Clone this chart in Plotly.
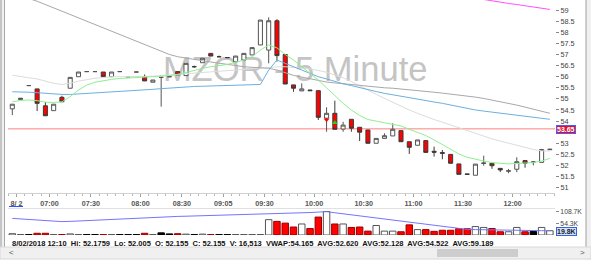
import plotly.graph_objects as go

# ---------------- data ----------------
tick_bar_index = [0.5, 4.5, 9.5, 15.5, 20.5, 25.5, 30.5, 36.5, 42.5, 48.5, 54.5, 60.5]
tick_labels = ["8/ 2", "07:00", "07:30", "08:00", "08:30", "09:05", "09:30",
               "10:00", "10:30", "11:00", "11:30", "12:00"]

opens = [54.55, 54.97, 55.60, 55.45, 54.69, 54.47, 55.07, 55.48, 56.00, 56.23,
         56.23, 56.21, 56.00, 56.23, 56.00, 56.21, 56.00, 55.75, 55.97, 56.00,
         56.23, 56.05, 56.45, 56.63, 57.05, 56.90, 56.86, 56.67, 56.75, 56.98,
         57.43, 57.20, 58.52, 57.00, 55.63, 55.36, 55.40, 55.37, 54.13, 54.35,
         53.64, 54.08, 53.72, 53.60, 53.00, 53.22, 53.33, 53.57, 53.07, 52.91,
         53.12, 52.64, 52.58, 52.50, 52.07, 51.62, 51.56, 52.09, 52.10, 51.87,
         51.74, 51.83, 52.22, 52.155, 52.14, 52.71]
highs = [54.76, 55.03, 55.60, 55.45, 54.86, 54.76, 55.14, 55.97, 56.21, 56.23,
         56.23, 56.21, 56.21, 56.23, 56.00, 56.21, 56.10, 55.85, 55.97, 56.00,
         56.23, 56.60, 56.50, 56.83, 57.05, 56.95, 56.86, 56.93, 57.05, 57.31,
         58.55, 58.67, 58.59, 57.00, 55.63, 55.70, 55.40, 55.37, 54.62, 54.92,
         53.97, 54.08, 53.72, 53.60, 53.22, 53.45, 53.90, 53.57, 53.07, 53.15,
         53.12, 52.85, 52.70, 52.50, 52.07, 51.62, 52.06, 52.44, 52.10, 51.87,
         51.84, 52.37, 52.22, 52.176, 52.72, 52.74]
lows = [54.27, 54.97, 55.60, 54.45, 54.24, 54.47, 54.87, 55.48, 56.00, 56.23,
        56.23, 56.00, 56.00, 56.23, 56.00, 56.21, 55.81, 55.75, 54.65, 56.00,
        56.08, 56.05, 56.40, 56.63, 56.93, 56.90, 56.86, 56.67, 56.75, 56.98,
        57.43, 56.60, 56.68, 55.67, 55.32, 55.36, 55.37, 54.05, 53.52, 53.63,
        53.52, 53.52, 53.10, 53.00, 53.00, 53.22, 53.33, 53.07, 52.52, 52.91,
        52.59, 52.40, 52.28, 52.10, 51.60, 51.58, 51.56, 51.99, 51.85, 51.70,
        51.65, 51.70, 51.90, 52.005, 52.14, 52.70]
closes = [54.76, 55.03, 55.60, 54.80, 54.24, 54.76, 54.87, 55.97, 56.21, 56.23,
          56.23, 56.00, 56.21, 56.23, 56.00, 56.21, 55.81, 55.85, 55.97, 56.00,
          56.08, 56.60, 56.45, 56.83, 56.93, 56.90, 56.86, 56.93, 57.05, 57.31,
          58.55, 58.52, 56.95, 55.67, 55.48, 55.45, 55.37, 54.17, 54.35, 53.63,
          53.82, 53.68, 53.50, 53.00, 53.22, 53.34, 53.63, 53.07, 52.82, 53.15,
          52.59, 52.60, 52.55, 52.10, 51.60, 51.60, 52.06, 52.11, 51.99, 51.80,
          51.76, 52.17, 52.10, 52.155, 52.72, 52.73]

vol_k = [6, 2, 2, 8, 8, 2, 2, 5, 2, 2,
         2, 2, 2, 2, 2, 2, 8, 2, 10, 5,
         6, 4, 2, 4, 2, 2, 2, 2, 2, 2,
         2, 71, 63, 55, 37, 51, 30, 83, 108.7, 51,
         51, 35, 37, 18, 44, 18, 18, 15, 47, 25,
         25, 17, 22, 22, 30, 29, 39, 35, 30, 15,
         15, 35, 15, 16.5, 35, 19.8]
vol_ma_k = [77, 74, 71, 68, 65, 63, 62, 63, 65, 67,
            69, 71, 73, 75, 77, 79, 81, 83, 84, 85,
            86, 87, 88, 89, 90, 91, 92, 93, 94, 94,
            95, 96, 98, 99, 100, 102, 104, 106, 108, 103,
            98, 93, 88, 83, 78, 73, 68, 63, 58, 53,
            48, 43, 38, 33, 29, 26, 25, 24, 23, 23,
            22, 22, 21, 21, 20, 20]

ma_green = [54.87, 54.93, 54.95, 54.92, 54.85, 54.84, 54.87, 55.10, 55.40, 55.62,
            55.75, 55.82, 55.88, 55.92, 55.95, 55.97, 55.98, 56.00, 56.02, 56.05,
            56.10, 56.20, 56.28, 56.37, 56.45, 56.50, 56.55, 56.65, 56.75, 56.90,
            57.20, 57.43, 57.30, 57.00, 56.75, 56.45, 56.15, 55.85, 55.50, 55.15,
            54.80, 54.50, 54.25, 54.07, 54.00, 53.93, 53.87, 53.78, 53.63, 53.50,
            53.35, 53.15, 52.95, 52.72, 52.52, 52.37, 52.27, 52.20, 52.13, 52.09,
            52.07, 52.09, 52.11, 52.13, 52.20, 52.32]
ma_blue = [55.32, 55.32, 55.30, 55.28, 55.25, 55.22, 55.20, 55.20, 55.22, 55.25,
           55.28, 55.30, 55.32, 55.34, 55.36, 55.38, 55.40, 55.43, 55.46, 55.49,
           55.52, 55.54, 55.56, 55.57, 55.58, 55.59, 55.60, 55.61, 55.62, 55.63,
           55.65, 56.30, 56.75, 56.60, 56.45, 56.30, 56.15, 56.00, 55.90, 55.78,
           55.68, 55.60, 55.50, 55.42, 55.33, 55.25, 55.18, 55.12, 55.06, 55.00,
           54.93, 54.86, 54.80, 54.72, 54.63, 54.55, 54.50, 54.45, 54.40, 54.35,
           54.30, 54.25, 54.20, 54.15, 54.11, 54.08]
ma_gray = [59.80, 59.65, 59.52, 59.40, 59.25, 59.10, 58.95, 58.80, 58.65, 58.50,
           58.35, 58.20, 58.05, 57.90, 57.75, 57.60, 57.45, 57.30, 57.15, 57.00,
           56.90, 56.83, 56.78, 56.72, 56.66, 56.60, 56.55, 56.50, 56.45, 56.42,
           56.40, 56.38, 56.30, 56.18, 56.06, 55.98, 55.90, 55.82, 55.76, 55.72,
           55.68, 55.64, 55.60, 55.56, 55.52, 55.50, 55.48, 55.45, 55.42, 55.38,
           55.34, 55.30, 55.26, 55.22, 55.18, 55.14, 55.08, 55.02, 54.95, 54.88,
           54.80, 54.72, 54.63, 54.53, 54.44, 54.35]
ma_lightgray = [56.07, 56.00, 55.95, 55.90, 55.80, 55.70, 55.65, 55.70, 55.80, 55.88,
                55.93, 55.96, 56.00, 56.00, 56.00, 56.00, 56.00, 56.02, 56.05, 56.08,
                56.10, 56.13, 56.16, 56.19, 56.22, 56.25, 56.28, 56.31, 56.34, 56.37,
                56.40, 56.42, 56.44, 56.45, 56.42, 56.40, 56.35, 56.28, 56.20, 56.08,
                55.95, 55.78, 55.60, 55.40, 55.20, 55.02, 54.85, 54.68, 54.50, 54.35,
                54.20, 54.07, 53.95, 53.82, 53.70, 53.57, 53.45, 53.32, 53.20, 53.10,
                53.00, 52.90, 52.80, 52.72, 52.66, 52.65]
ma_magenta = [None] * 57 + [59.48, 59.41, 59.36, 59.30, 59.25, 59.20, 59.14, 59.08, 59.03]

alert_price = 53.65
sell_marker = (38, 54.06)
buy_marker = (39, 53.93)

# 53.5 is hidden behind the alert-price box in the reference
price_ticks = [51, 51.5, 52, 52.5, 53, 54, 54.5, 55, 55.5, 56, 56.5, 57, 57.5, 58, 58.5, 59]
price_tick_text = [("%g" % v) for v in price_ticks]
vol_ticks = [54.3, 108.7]
vol_tick_text = ["54.3K", "108.7K"]

info_text = ("8/02/2018 12:10  Hi: 52.1759  Lo: 52.005  O: 52.155  C: 52.155  "
             "V: 16,513  VWAP:54.165  AVG:52.620  AVG:52.128  AVG:54.522  AVG:59.189")
watermark = "MZOR - 5 Minute"

# ---------------- figure ----------------
idx = list(range(len(opens)))
W, H = 591, 260
ML, MR, MT, MB = 8, 36, 0, 25
PW, PH = W - ML - MR, H - MT - MB


def px(x):
    return (x - ML) / PW


def py(y):
    return (PH - (y - MT)) / PH


fig = go.Figure()

fig.add_trace(go.Scatter(x=[34.2], y=[56.2], mode="text", text=[watermark],
                         textfont=dict(family="Liberation Sans", size=34.5, color="#c4c4c4"),
                         xaxis="x", yaxis="y", hoverinfo="skip"))

line_specs = [
    (ma_lightgray, "#dcdcdc"),
    (ma_gray, "#a8a8a8"),
    (ma_blue, "#6cb0e0"),
    (ma_green, "#8ef08e"),
    (ma_magenta, "#ff50ff"),
]
for series, col in line_specs:
    fig.add_trace(go.Scatter(x=idx, y=series, mode="lines", line=dict(color=col, width=1),
                             xaxis="x", yaxis="y3", hoverinfo="skip", connectgaps=False))

fig.add_trace(go.Candlestick(
    x=idx, open=opens, high=highs, low=lows, close=closes,
    increasing=dict(fillcolor="#ffffff", line=dict(color="#555555", width=1)),
    decreasing=dict(fillcolor="#ff0000", line=dict(color="#3a3a3a", width=1)),
    whiskerwidth=0, xaxis="x", yaxis="y3", hoverinfo="skip"))

fig.add_trace(go.Scatter(x=[sell_marker[0]], y=[sell_marker[1]], mode="markers",
                         marker=dict(symbol="triangle-down", size=5, color="#ff0000"),
                         xaxis="x", yaxis="y3"))
fig.add_trace(go.Scatter(x=[buy_marker[0]], y=[buy_marker[1]], mode="markers",
                         marker=dict(symbol="triangle-up", size=5, color="#22cc22"),
                         xaxis="x", yaxis="y3"))

vcol, vline = [], []
for o, c in zip(opens, closes):
    if c > o:
        vcol.append("#ffffff"); vline.append("#555555")
    elif c < o:
        vcol.append("#ff0000"); vline.append("#9a0000")
    else:
        vcol.append("#000000"); vline.append("#000000")

fig.add_trace(go.Bar(x=idx, y=vol_k, marker=dict(color=vcol, line=dict(color=vline, width=1)),
                     width=0.78, xaxis="x2", yaxis="y2", hoverinfo="skip"))
fig.add_trace(go.Scatter(x=idx, y=vol_ma_k, mode="lines", line=dict(color="#7474ff", width=1),
                         xaxis="x2", yaxis="y2", hoverinfo="skip"))

xr = [-0.52, 65.62]
yr = [50.76, 59.455]
price_dom = [py(193), 1]
vol_dom = [0, py(208)]

fig.update_layout(
    width=W, height=H, margin=dict(l=ML, r=MR, t=MT, b=MB),
    paper_bgcolor="white", plot_bgcolor="white", showlegend=False,
    xaxis=dict(domain=[0, 1], anchor="y", range=xr, tickvals=tick_bar_index, ticktext=tick_labels,
               ticks="outside", ticklen=3, tickcolor="#a0a0a0", showline=True, linecolor="#d0d0d0",
               showgrid=False, zeroline=False, rangeslider=dict(visible=False),
               tickfont=dict(family="Liberation Sans", size=7.2, color="#555555", weight="bold"),
               minor=dict(ticks="outside", tick0=-0.5, dtick=1, ticklen=2, tickcolor="#b8b8b8")),
    yaxis=dict(domain=price_dom, anchor="x", range=yr, side="right", tickvals=price_ticks,
               ticktext=price_tick_text, ticks="outside", ticklen=3, tickcolor="#888888",
               showgrid=False, zeroline=False, showline=False,
               tickfont=dict(family="Liberation Sans", size=7.3, color="#444444")),
    yaxis3=dict(overlaying="y", range=yr, visible=False, side="right"),
    xaxis2=dict(domain=[0, 1], anchor="y2", range=xr, matches="x", showticklabels=False,
                ticks="", showgrid=False, zeroline=False, showline=False),
    yaxis2=dict(domain=vol_dom, anchor="x2", range=[0, 125], side="right", tickvals=vol_ticks,
                ticktext=vol_tick_text, ticks="outside", ticklen=3, tickcolor="#888888",
                showgrid=False, zeroline=False, showline=False,
                tickfont=dict(family="Liberation Sans", size=6.8, color="#444444")),
)

shapes = [
    dict(type="line", xref="paper", yref="y", x0=0, x1=1, y0=alert_price, y1=alert_price,
         line=dict(color="#ff8080", width=1), layer="below"),
    dict(type="line", xref="paper", yref="paper", x0=0, x1=1, y0=py(208.5), y1=py(208.5),
         line=dict(color="#e0e0e0", width=1)),
    dict(type="line", xref="paper", yref="paper", x0=px(9), x1=px(23), y0=py(206.5), y1=py(206.5),
         line=dict(color="#3050ff", width=1)),
    dict(type="rect", xref="paper", yref="paper", x0=px(0), x1=px(4.5), y0=py(247), y1=py(0),
         fillcolor="#f0f0f0", line=dict(width=0)),
    dict(type="line", xref="paper", yref="paper", x0=px(1), x1=px(1), y0=py(247), y1=py(0),
         line=dict(color="#9a9a9a", width=1)),
    dict(type="line", xref="paper", yref="paper", x0=px(4.5), x1=px(4.5), y0=py(247), y1=py(0),
         line=dict(color="#a8a8a8", width=1)),
    dict(type="rect", xref="paper", yref="paper", x0=px(586), x1=px(591), y0=py(260), y1=py(0),
         fillcolor="#f0f0f0", line=dict(width=0)),
    dict(type="line", xref="paper", yref="paper", x0=px(586), x1=px(586), y0=py(247), y1=py(0),
         line=dict(color="#a0a0a0", width=1)),
    dict(type="rect", xref="paper", yref="paper", x0=px(0), x1=px(591), y0=py(259), y1=py(247),
         fillcolor="#f0f0f0", line=dict(color="#d8d8d8", width=1)),
    dict(type="rect", xref="paper", yref="paper", x0=px(437), x1=px(518), y0=py(257), y1=py(249),
         fillcolor="#cdcdcd", line=dict(width=0)),
]
fig.update_layout(shapes=shapes)

annotations = [
    dict(xref="paper", yref="y", x=px(556), y=alert_price - 0.03, xanchor="left", yanchor="middle",
         text="<b>53.65</b>", showarrow=False, bgcolor="#dd1030", bordercolor="#4a5cff",
         borderwidth=1, borderpad=0, font=dict(family="Liberation Sans", size=7, color="white")),
    dict(xref="paper", yref="y2", x=px(556), y=vol_k[-1] - 1.5, xanchor="left", yanchor="middle",
         text="<b>19.8K</b>", showarrow=False, bgcolor="#cfe2ff", bordercolor="#3a62d8",
         borderwidth=1, borderpad=0, font=dict(family="Liberation Sans", size=7, color="#222222")),
    dict(xref="paper", yref="paper", x=px(10), y=py(243), xanchor="left", yanchor="middle",
         text=info_text, showarrow=False,
         font=dict(family="Liberation Sans", size=7.5, color="#111111", weight="bold")),
    dict(xref="paper", yref="paper", x=px(11), y=py(253), xanchor="center", yanchor="middle",
         text="<", showarrow=False, font=dict(family="Liberation Sans", size=8, color="#555555")),
    dict(xref="paper", yref="paper", x=px(582), y=py(253), xanchor="center", yanchor="middle",
         text=">", showarrow=False, font=dict(family="Liberation Sans", size=8, color="#555555")),
]
fig.update_layout(annotations=annotations)

fig.write_html("out.html")
